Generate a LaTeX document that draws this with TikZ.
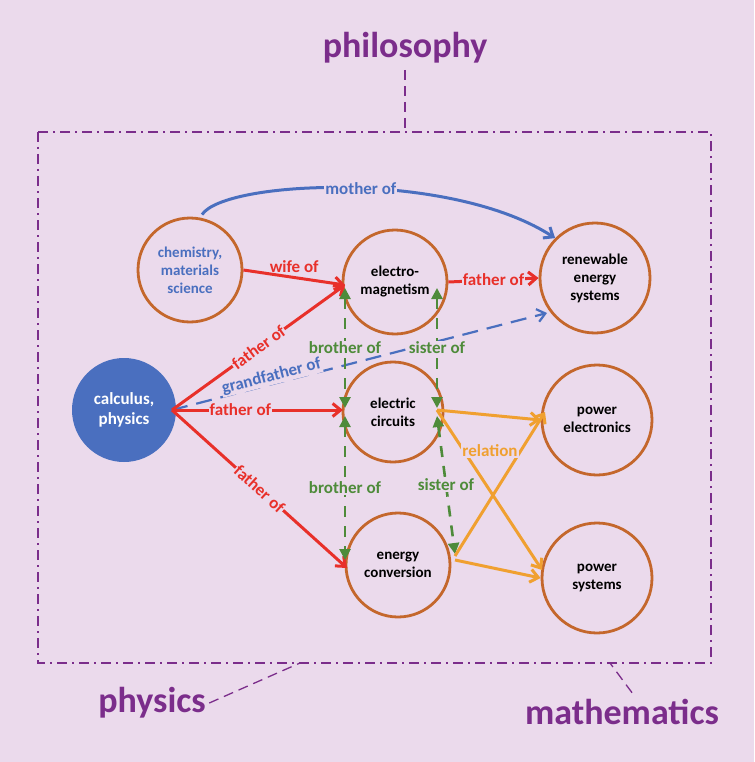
\documentclass[tikz,border=0pt]{standalone}
\usepackage{fontspec}
\setmainfont{Carlito}
\usetikzlibrary{arrows.meta}
\definecolor{bg}{HTML}{EBDAEC}
\definecolor{brn}{HTML}{C4672C}
\definecolor{blu}{HTML}{4A6FBF}
\definecolor{rd}{HTML}{E8302A}
\definecolor{grn}{HTML}{4E8B3A}
\definecolor{org}{HTML}{F0A030}
\definecolor{pur}{HTML}{7B2D8B}
\begin{document}
\begin{tikzpicture}[x=1pt,y=-1pt,
  circ/.style={circle,draw=brn,line width=2.8pt,minimum size=104pt,inner sep=0pt,align=center,font=\bfseries\fontsize{15}{18}\selectfont},
  lab/.style={font=\bfseries\fontsize{17}{19}\selectfont,fill=bg,inner sep=1pt},
  title/.style={font=\bfseries\fontsize{36}{40}\selectfont,text=pur},
  rel/.style={line width=3pt,-{Straight Barb[length=8pt,width=13pt]}},
  gr/.style={grn,line width=2.6pt,dash pattern=on 11pt off 9pt,{Triangle[length=11pt,width=11pt]}-{Triangle[length=11pt,width=11pt]}},
  frame/.style={pur,line width=1.3pt,dash pattern=on 10pt off 5pt on 2pt off 5pt},
  conn/.style={pur,line width=1.3pt,dash pattern=on 10pt off 6pt}]
\fill[bg] (0,0) rectangle (754,762);
\useasboundingbox (0,0) rectangle (754,762);
\draw[frame] (38,132) rectangle (711,663);
\node[title] (phil) at (405,48) {philosophy};
\node[title] (phys) at (152,703) {physics};
\node[title] (math) at (622,712) {mathematics};
\coordinate (fT) at (405,132);
\coordinate (fB1) at (300,663);
\coordinate (fB2) at (610,663);
\draw[conn] (phil.south) ++(0,3) -- (fT);
\draw[conn] (phys.east) -- (fB1);
\draw[conn] (math.north) ++(10,-3) -- (fB2);

\node[circ,text=blu] (chem) at (190,270) {chemistry,\\materials\\science};
\node[circ] (em) at (395,282) {electro-\\magnetism};
\node[circ,minimum size=110pt] (ren) at (595,278) {renewable\\energy\\systems};
\node[circle,fill=blu,minimum size=104pt,inner sep=0pt,align=center,text=white,font=\bfseries\fontsize{17}{20}\selectfont] (calc) at (124,410) {calculus,\\physics};
\node[circ,minimum size=100pt] (ec) at (393,412) {electric\\circuits};
\node[circ,minimum size=110pt] (pe) at (597,420) {power\\electronics};
\node[circ] (cv) at (398,565) {energy\\conversion};
\node[circ,minimum size=110pt] (ps) at (597,578) {power\\systems};

\draw[rel,blu] (chem.north) ++(12,-2) .. controls (225,180) and (450,170) .. (ren.north west) node[pos=0.53,lab,text=blu] {mother of};
\draw[rel,rd] (chem.east) -- (345,285) node[midway,above,font=\bfseries\fontsize{17}{19}\selectfont,text=rd] {wife of};
\draw[rel,rd] (em.east) -- (ren.west) node[midway,lab,text=rd] {father of};
\draw[blu,line width=2.2pt,dash pattern=on 16pt off 9pt,-{Straight Barb[length=8pt,width=13pt]}] (172,410) -- (547,313) node[pos=0.27,sloped,above=-2pt,font=\bfseries\fontsize{17}{19}\selectfont,text=blu,fill=bg,inner sep=1pt] {grandfather of};
\draw[rel,rd] (172,410) -- (345,285) node[midway,sloped,lab,text=rd] {father of};
\draw[rel,rd] (172,410) -- (343,410) node[pos=0.4,lab,text=rd] {father of};
\draw[rel,rd] (172,410) -- (347,568) node[midway,sloped,lab,text=rd] {father of};

\draw[gr] (345,288) -- (345,408) node[midway,lab,text=grn] {brother of};
\draw[gr] (437,288) -- (437,408) node[midway,lab,text=grn] {sister of};
\draw[gr] (345,416) -- (345,560) node[midway,lab,text=grn] {brother of};
\draw[gr] (437,416) -- (455,554) node[midway,lab,text=grn] {sister of};

\draw[rel,org] (437,410) -- (pe.west);
\draw[rel,org] (437,410) -- (542,570);
\draw[rel,org] (455,556) -- (545,412);
\draw[rel,org] (455,560) -- (ps.west);
\node[font=\bfseries\fontsize{17}{19}\selectfont,text=org,fill=bg,inner sep=1pt] (relL) at (490,451) {relation};
\end{tikzpicture}
\end{document}
